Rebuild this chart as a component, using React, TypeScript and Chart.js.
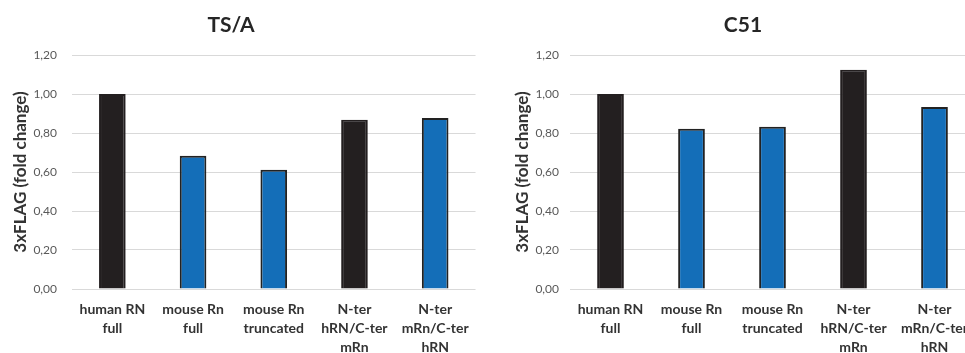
import React, { useEffect, useRef } from "react";
import { Chart, registerables } from "chart.js";

Chart.register(...registerables);

const categories: string[][] = [
  ["human RN", "full"],
  ["mouse Rn", "full"],
  ["mouse Rn", "truncated"],
  ["N-ter", "hRN/C-ter", "mRn"],
  ["N-ter", "mRn/C-ter", "hRN"],
];
const tsaValues = [1.0, 0.683, 0.611, 0.868, 0.877];
const c51Values = [1.0, 0.822, 0.832, 1.125, 0.933];
const barColors = ["#231f20", "#146eb8", "#146eb8", "#231f20", "#146eb8"];
const borderColors = ["#231f20", "#222222", "#222222", "#231f20", "#222222"];
const yTicks = [0, 0.2, 0.4, 0.6, 0.8, 1.0, 1.2];
const yTitle = "3xFLAG (fold change)";

const FONT = "Lato, 'Open Sans', sans-serif";

const titlePlugin = {
  id: "fixedTitle",
  afterDraw(chart: any) {
    const o = chart.options.plugins.fixedTitle;
    if (!o) return;
    const ctx = chart.ctx;
    ctx.save();
    ctx.font = `bold 21px ${FONT}`;
    ctx.fillStyle = "#262626";
    ctx.textAlign = "center";
    ctx.textBaseline = "middle";
    ctx.fillText(o.text, o.x, o.y);
    ctx.restore();
  },
};

function makeConfig(
  title: string,
  titleX: number,
  values: number[],
  yAxisWidth: number,
  yTitlePad: number,
  yTickPad: number,
  rightPad: number
): any {
  return {
    type: "bar",
    data: {
      labels: categories,
      datasets: [
        {
          data: values,
          backgroundColor: barColors,
          borderColor: borderColors,
          borderWidth: 2,
          barPercentage: 0.33,
          categoryPercentage: 1,
        },
      ],
    },
    plugins: [titlePlugin],
    options: {
      responsive: false,
      animation: false,
      layout: { padding: { top: 55, left: 0, right: rightPad, bottom: 0 } },
      plugins: {
        legend: { display: false },
        tooltip: { enabled: false },
        title: { display: false },
        fixedTitle: { text: title, x: titleX, y: 25 },
      },
      scales: {
        x: {
          grid: { display: false, drawTicks: false },
          border: { display: false },
          ticks: {
            color: "#333333",
            font: { family: FONT, size: 14, weight: "bold", lineHeight: 1.35 },
            padding: 11,
            maxRotation: 0,
            autoSkip: false,
          },
          afterFit: (s: any) => {
            s.height = 64;
          },
        },
        y: {
          min: 0,
          max: 1.2,
          grid: { color: "#d9d9d9", lineWidth: 1, drawTicks: false },
          border: { display: false },
          afterBuildTicks: (s: any) => {
            s.ticks = yTicks.map((v) => ({ value: v }));
          },
          ticks: {
            color: "#595959",
            font: { family: FONT, size: 12 },
            padding: yTickPad,
            callback: (v: any) => Number(v).toFixed(2).replace(".", ","),
          },
          title: {
            display: true,
            text: yTitle,
            color: "#333333",
            font: { family: FONT, size: 17, weight: "bold", lineHeight: 1.2 },
            padding: { top: yTitlePad, bottom: 0 },
          },
          afterFit: (s: any) => {
            s.width = yAxisWidth;
          },
        },
      },
    },
  };
}

export default function App() {
  const leftRef = useRef<HTMLCanvasElement>(null);
  const rightRef = useRef<HTMLCanvasElement>(null);

  useEffect(() => {
    const c1 = new Chart(leftRef.current!, makeConfig("TS/A", 231, tsaValues, 72, 10, 15, 3));
    const c2 = new Chart(rightRef.current!, makeConfig("C51", 263, c51Values, 90, 32, 11, 5));
    return () => {
      c1.destroy();
      c2.destroy();
    };
  }, []);

  return (
    <div
      style={{
        position: "fixed",
        left: 0,
        top: 0,
        width: 965,
        height: 353,
        overflow: "hidden",
        background: "#ffffff",
      }}
    >
      <canvas
        ref={leftRef}
        width={480}
        height={353}
        style={{ position: "absolute", left: 0, top: 0, width: 480, height: 353 }}
      />
      <canvas
        ref={rightRef}
        width={500}
        height={353}
        style={{ position: "absolute", left: 480, top: 0, width: 500, height: 353 }}
      />
    </div>
  );
}
